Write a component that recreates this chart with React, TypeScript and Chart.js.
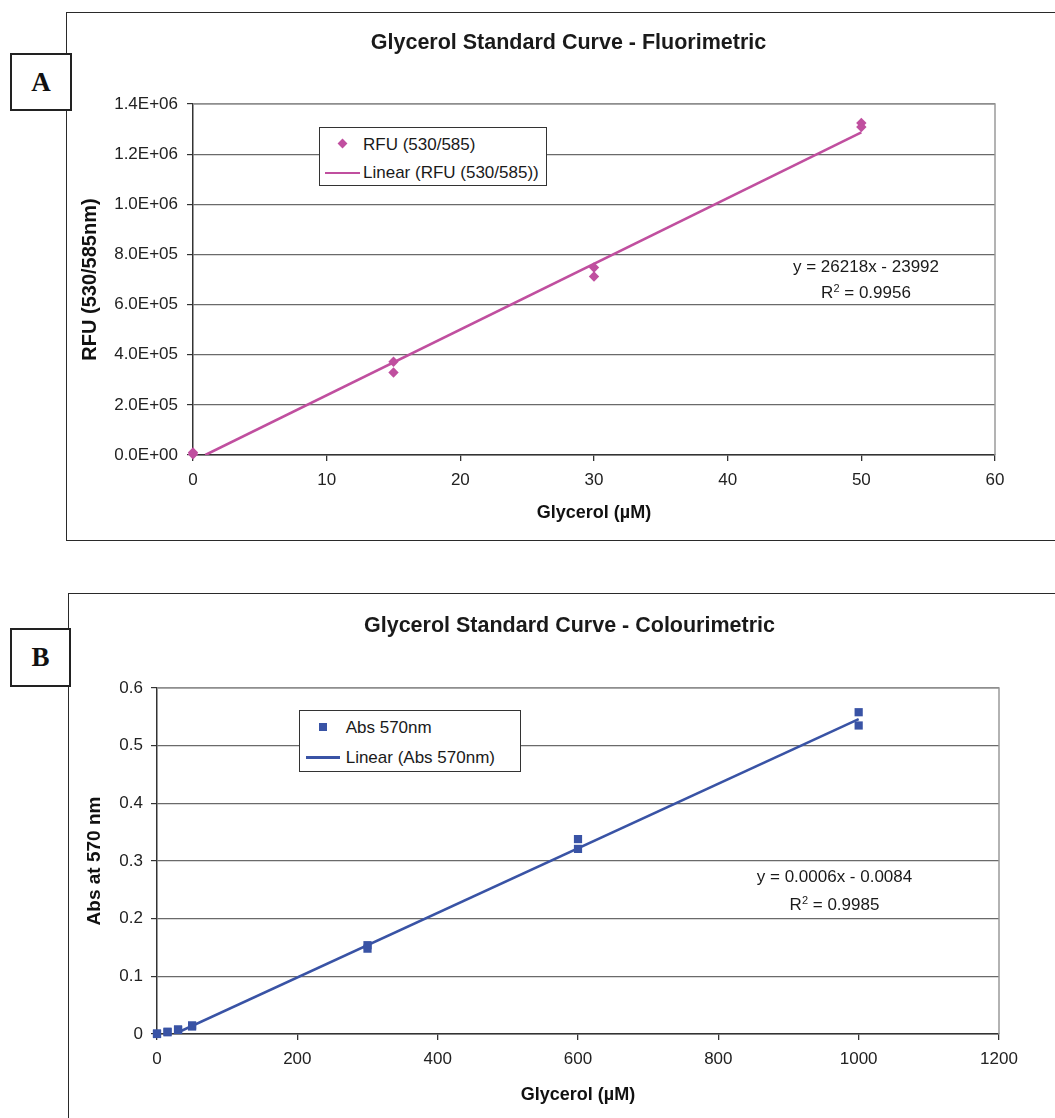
import React, { useEffect, useRef } from "react";
import { Chart, registerables } from "chart.js";

Chart.register(...registerables);

// ---------- Data: panel A (fluorimetric) ----------
const fluoX = [0, 0, 15, 15, 30, 30, 50, 50];
const fluoY = [10000, 3000, 372000, 329000, 748000, 712000, 1324000, 1308000];
const fluoTrendX = [0.92, 50];
const fluoTrendY = [0, 1286900];
const fluoXTicks = [0, 10, 20, 30, 40, 50, 60];
const fluoYTicks = [0, 200000, 400000, 600000, 800000, 1000000, 1200000, 1400000];

// ---------- Data: panel B (colourimetric) ----------
const absX = [0, 0, 15, 15, 30, 30, 50, 50, 300, 300, 600, 600, 1000, 1000];
const absY = [0.001, 0.0, 0.003, 0.004, 0.007, 0.008, 0.013, 0.015, 0.154, 0.148, 0.338, 0.321, 0.558, 0.535];
const absTrendX = [25, 1000];
const absTrendY = [0, 0.546];
const absXTicks = [0, 200, 400, 600, 800, 1000, 1200];
const absYTicks = [0, 0.1, 0.2, 0.3, 0.4, 0.5, 0.6];

const PINK = "#C04F9F";
const BLUE = "#3953A5";
const FONT = "'Liberation Sans', Arial, Helvetica, sans-serif";
const SERIF = "'Liberation Serif', 'Times New Roman', serif";

const sciLabel = (v: number) => {
  if (v === 0) return "0.0E+00";
  const e = Math.floor(Math.log10(v) + 1e-9);
  const m = v / Math.pow(10, e);
  return m.toFixed(1) + "E+" + String(e).padStart(2, "0");
};

const plotBorder = {
  id: "plotBorder",
  beforeDatasetsDraw(chart: any) {
    const { ctx, chartArea: a } = chart;
    ctx.save();
    ctx.strokeStyle = "#9a9a9a";
    ctx.lineWidth = 1.5;
    ctx.beginPath();
    ctx.moveTo(a.left, a.top);
    ctx.lineTo(a.right, a.top);
    ctx.lineTo(a.right, a.bottom);
    ctx.stroke();
    ctx.restore();
  },
};

type PanelProps = {
  top: number;
  height: number;
  padLeft: number;
  padRight: number;
  padTop: number;
  yAxisWidth: number;
  xAxisHeight: number;
  xs: number[];
  ys: number[];
  trendX: number[];
  trendY: number[];
  xTicks: number[];
  yTicks: number[];
  color: string;
  pointStyle: string;
  pointRadius: number;
  seriesLabel: string;
  xTitle: string;
  yTitle: string;
  yTitleSize: number;
  yTitlePad: number;
  xTitlePad: number;
  yTickPad: number;
  yFormat: (v: number) => string;
};

function Panel(p: PanelProps) {
  const ref = useRef<HTMLCanvasElement | null>(null);
  useEffect(() => {
    if (!ref.current) return;
    const tickFont = { family: FONT, size: 17 };
    const chart = new Chart(ref.current, {
      type: "scatter",
      data: {
        datasets: [
          {
            label: "Linear (" + p.seriesLabel + ")",
            type: "line",
            data: p.trendX.map((x, i) => ({ x, y: p.trendY[i] })),
            borderColor: p.color,
            borderWidth: 2.6,
            pointRadius: 0,
            fill: false,
            showLine: true,
            order: 2,
          } as any,
          {
            label: p.seriesLabel,
            data: p.xs.map((x, i) => ({ x, y: p.ys[i] })),
            backgroundColor: p.color,
            borderColor: p.color,
            borderWidth: 0,
            pointStyle: p.pointStyle as any,
            pointRadius: p.pointRadius,
            clip: false as any,
            order: 1,
          },
        ],
      },
      options: {
        animation: false,
        responsive: true,
        maintainAspectRatio: false,
        layout: { padding: { left: p.padLeft, right: p.padRight, top: p.padTop, bottom: 0 } },
        plugins: {
          legend: { display: false },
          tooltip: { enabled: false },
          title: { display: false },
        },
        scales: {
          x: {
            type: "linear",
            min: p.xTicks[0],
            max: p.xTicks[p.xTicks.length - 1],
            afterBuildTicks: (s: any) => {
              s.ticks = p.xTicks.map((v) => ({ value: v }));
            },
            afterFit: (s: any) => {
              s.height = p.xAxisHeight;
            },
            grid: { drawOnChartArea: false, tickLength: 6, color: "#333", lineWidth: 1.3 },
            border: { color: "#333", width: 1.5 },
            ticks: {
              font: tickFont,
              color: "#222",
              padding: 9,
              maxRotation: 0,
              autoSkip: false,
              callback: (v: any) => String(Number(v)),
            },
            title: {
              display: true,
              text: p.xTitle,
              color: "#111",
              font: { family: FONT, size: 18, weight: "bold" },
              padding: { top: 0, bottom: p.xTitlePad },
            },
          },
          y: {
            type: "linear",
            min: p.yTicks[0],
            max: p.yTicks[p.yTicks.length - 1],
            afterBuildTicks: (s: any) => {
              s.ticks = p.yTicks.map((v) => ({ value: v }));
            },
            afterFit: (s: any) => {
              s.width = p.yAxisWidth;
            },
            grid: { color: "#6a6a6a", lineWidth: 1.2, tickLength: 6, tickColor: "#333" },
            border: { color: "#333", width: 1.5 },
            ticks: {
              font: tickFont,
              color: "#222",
              padding: p.yTickPad,
              autoSkip: false,
              callback: (v: any) => p.yFormat(Number(v)),
            },
            title: {
              display: true,
              text: p.yTitle,
              color: "#111",
              font: { family: FONT, size: p.yTitleSize, weight: "bold" },
              padding: { top: p.yTitlePad, bottom: 0 },
            },
          },
        },
      },
      plugins: [plotBorder],
    });
    return () => chart.destroy();
  }, []);
  return (
    <div style={{ position: "absolute", left: 0, top: p.top, width: 1055, height: p.height }}>
      <canvas ref={ref} />
    </div>
  );
}

const txt = (cx: number, cy: number, fs: number, extra: any = {}) => ({
  position: "absolute" as const,
  top: cy - 0.49 * fs,
  fontFamily: FONT,
  fontSize: fs,
  lineHeight: `${fs}px`,
  color: "#1a1a1a",
  whiteSpace: "nowrap" as const,
  ...extra,
  left: cx,
});

function Centered({ cx, cy, fs, bold, children }: any) {
  return (
    <div
      style={txt(cx, cy, fs, {
        transform: "translateX(-50%)",
        fontWeight: bold ? "bold" : "normal",
      })}
    >
      {children}
    </div>
  );
}

function Sup({ children }: any) {
  return (
    <sup style={{ fontSize: 11, lineHeight: 0, verticalAlign: "6px" }}>{children}</sup>
  );
}

export default function App() {
  return (
    <div
      style={{
        position: "absolute",
        left: 0,
        top: 0,
        width: 1055,
        height: 1118,
        overflow: "hidden",
        background: "#fff",
      }}
    >
      {/* chart frames */}
      <div
        style={{
          position: "absolute",
          left: 66,
          top: 12,
          width: 1200,
          height: 529,
          border: "1.5px solid #2a2a2a",
          boxSizing: "border-box",
        }}
      />
      <div
        style={{
          position: "absolute",
          left: 68,
          top: 593,
          width: 1200,
          height: 700,
          border: "1.5px solid #2a2a2a",
          boxSizing: "border-box",
        }}
      />

      <Panel
        top={0}
        height={541}
        padLeft={66}
        padRight={60}
        padTop={104}
        yAxisWidth={127}
        xAxisHeight={86}
        xs={fluoX}
        ys={fluoY}
        trendX={fluoTrendX}
        trendY={fluoTrendY}
        xTicks={fluoXTicks}
        yTicks={fluoYTicks}
        color={PINK}
        pointStyle="rectRot"
        pointRadius={5.2}
        seriesLabel="RFU (530/585)"
        xTitle="Glycerol (µM)"
        yTitle="RFU (530/585nm)"
        yTitleSize={20}
        yTitlePad={12}
        xTitlePad={17}
        yTickPad={9}
        yFormat={sciLabel}
      />
      <Panel
        top={593}
        height={525}
        padLeft={68}
        padRight={56}
        padTop={95}
        yAxisWidth={89}
        xAxisHeight={84}
        xs={absX}
        ys={absY}
        trendX={absTrendX}
        trendY={absTrendY}
        xTicks={absXTicks}
        yTicks={absYTicks}
        color={BLUE}
        pointStyle="rect"
        pointRadius={5.8}
        seriesLabel="Abs 570nm"
        xTitle="Glycerol (µM)"
        yTitle="Abs at 570 nm"
        yTitleSize={19}
        yTitlePad={15}
        xTitlePad={12}
        yTickPad={8}
        yFormat={(v) => (v === 0 ? "0" : String(Number(v.toFixed(1))))}
      />

      {/* titles */}
      <Centered cx={568.5} cy={43} fs={21.5} bold>
        Glycerol Standard Curve - Fluorimetric
      </Centered>
      <Centered cx={569.5} cy={626} fs={21.5} bold>
        Glycerol Standard Curve - Colourimetric
      </Centered>

      {/* legend A */}
      <div
        style={{
          position: "absolute",
          left: 319,
          top: 127,
          width: 228,
          height: 59,
          border: "1px solid #333",
          background: "#fff",
          boxSizing: "border-box",
        }}
      />
      <div
        style={{
          position: "absolute",
          left: 339,
          top: 140,
          width: 7,
          height: 7,
          background: PINK,
          transform: "rotate(45deg)",
        }}
      />
      <div style={txt(363, 144, 17)}>RFU (530/585)</div>
      <div style={{ position: "absolute", left: 325, top: 171.5, width: 35, height: 2.6, background: PINK }} />
      <div style={txt(363, 172.7, 17)}>Linear (RFU (530/585))</div>

      {/* legend B */}
      <div
        style={{
          position: "absolute",
          left: 299,
          top: 710,
          width: 222,
          height: 62,
          border: "1px solid #333",
          background: "#fff",
          boxSizing: "border-box",
        }}
      />
      <div style={{ position: "absolute", left: 318.5, top: 723, width: 8, height: 8, background: BLUE }} />
      <div style={txt(345.7, 727, 17)}>Abs 570nm</div>
      <div style={{ position: "absolute", left: 306, top: 756.4, width: 34, height: 2.6, background: BLUE }} />
      <div style={txt(345.7, 757.7, 17)}>Linear (Abs 570nm)</div>

      {/* equations */}
      <Centered cx={866} cy={266} fs={17}>
        y = 26218x - 23992
      </Centered>
      <Centered cx={866} cy={292} fs={17}>
        R<Sup>2</Sup> = 0.9956
      </Centered>
      <Centered cx={834.5} cy={876} fs={17}>
        y = 0.0006x - 0.0084
      </Centered>
      <Centered cx={834.5} cy={904} fs={17}>
        R<Sup>2</Sup> = 0.9985
      </Centered>

      {/* panel labels */}
      <div
        style={{
          position: "absolute",
          left: 10,
          top: 53,
          width: 62,
          height: 58,
          border: "2px solid #222",
          boxSizing: "border-box",
          background: "#fff",
          display: "flex",
          alignItems: "center",
          justifyContent: "center",
          fontFamily: SERIF,
          fontWeight: "bold",
          fontSize: 27,
          color: "#111",
        }}
      >
        A
      </div>
      <div
        style={{
          position: "absolute",
          left: 10,
          top: 628,
          width: 61,
          height: 59,
          border: "2px solid #222",
          boxSizing: "border-box",
          background: "#fff",
          display: "flex",
          alignItems: "center",
          justifyContent: "center",
          fontFamily: SERIF,
          fontWeight: "bold",
          fontSize: 27,
          color: "#111",
        }}
      >
        B
      </div>
    </div>
  );
}
